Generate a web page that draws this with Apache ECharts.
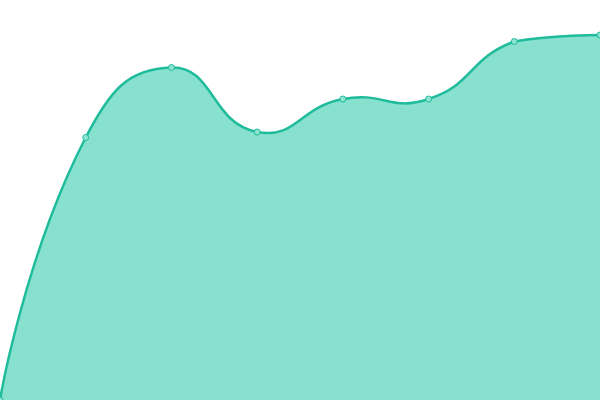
<!DOCTYPE html>
<html>
<head>
<meta charset="utf-8">
<script src="https://cdn.jsdelivr.net/npm/echarts@6/dist/echarts.min.js"></script>
<style>
html, body { margin: 0; padding: 0; background: #fff; }
#main { width: 600px; height: 400px; }
</style>
</head>
<body>
<div id="main"></div>
<script>
// 数据
var categories = ['1', '2', '3', '4', '5', '6', '7', '8'];
var values = [0, 262.5, 332.5, 268, 301, 301, 358.5, 365];

var lineColor = '#1fbc9c';
var areaColor = '#88e0ce';

// 平滑曲线（与旧版 line smooth 一样的贝塞尔控制点算法，允许越过点）
function smoothPath(pts, smooth) {
    var minX = Infinity, minY = Infinity, maxX = -Infinity, maxY = -Infinity;
    pts.forEach(function (p) {
        minX = Math.min(minX, p[0]); maxX = Math.max(maxX, p[0]);
        minY = Math.min(minY, p[1]); maxY = Math.max(maxY, p[1]);
    });
    function clamp(c) {
        return [Math.max(minX, Math.min(maxX, c[0])), Math.max(minY, Math.min(maxY, c[1]))];
    }
    var d = 'M' + pts[0][0] + ' ' + pts[0][1];
    var cp0 = pts[0].slice();
    for (var i = 1; i < pts.length; i++) {
        var p = pts[i], prev = pts[i - 1], next = pts[i + 1];
        var cp1, vx = 0, vy = 0, r = 0.5;
        if (!next) {
            cp1 = p.slice();
        } else {
            vx = next[0] - prev[0]; vy = next[1] - prev[1];
            var lp = Math.hypot(p[0] - prev[0], p[1] - prev[1]);
            var ln = Math.hypot(p[0] - next[0], p[1] - next[1]);
            r = ln / (ln + lp);
            cp1 = [p[0] - vx * smooth * (1 - r), p[1] - vy * smooth * (1 - r)];
        }
        var a = clamp(cp0), b = clamp(cp1);
        d += ' C' + a[0] + ' ' + a[1] + ' ' + b[0] + ' ' + b[1] + ' ' + p[0] + ' ' + p[1];
        cp0 = [p[0] + vx * smooth * r, p[1] + vy * smooth * r];
    }
    return d;
}

var myChart = echarts.init(document.getElementById('main'));

var option = {
    animation: false,
    grid: { left: 0, right: 0, top: 0, bottom: 0 },
    xAxis: {
        type: 'category',
        boundaryGap: false,
        show: false,
        data: categories
    },
    yAxis: {
        type: 'value',
        min: 0,
        max: 400,
        show: false
    },
    series: [
        {
            type: 'custom',
            data: [0],
            clip: false,
            silent: true,
            renderItem: function (params, api) {
                var pts = values.map(function (v, i) { return api.coord([i, v]); });
                var line = smoothPath(pts, 0.5);
                var base0 = api.coord([0, 0]);
                var base1 = api.coord([values.length - 1, 0]);
                var area = line + ' L' + base1[0] + ' ' + base1[1] + ' L' + base0[0] + ' ' + base0[1] + ' Z';
                return {
                    type: 'group',
                    children: [
                        { type: 'path', shape: { pathData: area }, style: { fill: areaColor, stroke: null } },
                        { type: 'path', shape: { pathData: line }, style: { fill: null, stroke: lineColor, lineWidth: 2.5 } }
                    ]
                };
            }
        },
        {
            type: 'line',
            data: values,
            symbol: 'circle',
            symbolSize: 6,
            itemStyle: { color: '#8ee3d1', borderColor: lineColor, borderWidth: 1 },
            lineStyle: { opacity: 0 }
        }
    ]
};

myChart.setOption(option);
</script>
</body>
</html>
